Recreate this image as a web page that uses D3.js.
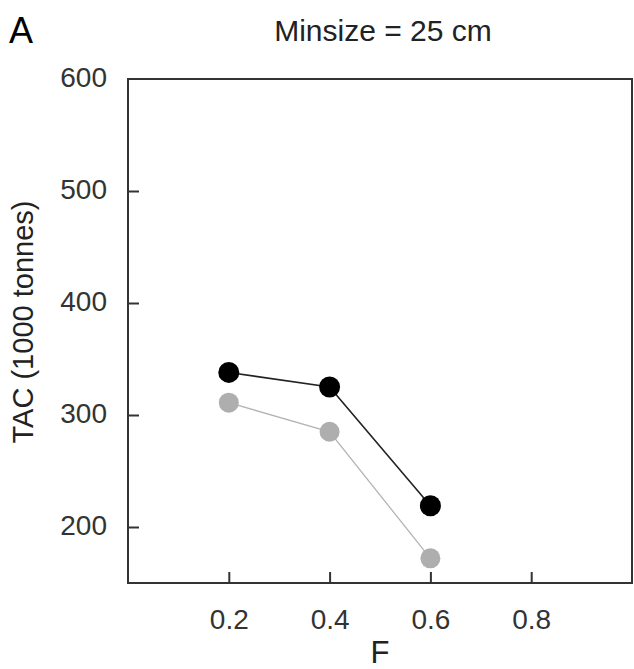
<!DOCTYPE html>
<html><head><meta charset="utf-8">
<script src="https://cdn.jsdelivr.net/npm/d3@7"></script>
<style>body{margin:0;background:#fff}svg{display:block}text{font-family:"Liberation Sans",Arial,sans-serif}</style>
</head><body>
<svg id="c" width="634" height="669"></svg>
<script>
const fValues = [0.2, 0.4, 0.6];
const blackSeries = [338, 325, 219];
const graySeries = [311, 285, 172];
const xTicks = [0.2, 0.4, 0.6, 0.8];
const yTicks = [200, 300, 400, 500, 600];
const title = "Minsize = 25 cm";
const panelLabel = "A";
const xLabel = "F";
const yLabel = "TAC (1000 tonnes)";

const svg = d3.select("#c");
const L = 128, R = 632, T = 79, B = 583;
const x = d3.scaleLinear().domain([0, 1]).range([L, R]);
const y = d3.scaleLinear().domain([150, 600]).range([B, T]);

// frame
svg.append("rect").attr("x", L).attr("y", T).attr("width", R - L).attr("height", B - T)
  .attr("fill", "none").attr("stroke", "#333").attr("stroke-width", 2);

const xAxis = svg.append("g").attr("transform", `translate(0,${B})`)
  .call(d3.axisBottom(x).tickValues(xTicks).tickSize(-11).tickPadding(0).tickFormat(d3.format(".1f")));
const yAxis = svg.append("g").attr("transform", `translate(${L},0)`)
  .call(d3.axisLeft(y).tickValues(yTicks).tickSize(-11).tickPadding(20).tickFormat(d3.format("d")));
[xAxis, yAxis].forEach(a => {
  a.select(".domain").remove();
  a.selectAll(".tick line").attr("stroke", "#333").attr("stroke-width", 2);
  a.selectAll(".tick text").attr("fill", "#333").style("font-size", "28px");
});
xAxis.selectAll(".tick text").attr("y", 46).attr("dy", null);
yAxis.selectAll(".tick text").attr("dy", "7px").attr("x", -21);
yAxis.selectAll(".tick").filter(d => d === 600).select("line").remove();

const line = d3.line().x((d, i) => x(fValues[i])).y(d => y(d));
svg.append("path").datum(graySeries).attr("d", line).attr("fill", "none").attr("stroke", "#b4b4b4").attr("stroke-width", 1.3);
svg.append("path").datum(blackSeries).attr("d", line).attr("fill", "none").attr("stroke", "#222").attr("stroke-width", 1.6);
svg.selectAll("circle.g").data(graySeries).enter().append("circle").attr("class", "g")
  .attr("cx", (d, i) => x(fValues[i])).attr("cy", d => y(d)).attr("r", 10).attr("fill", "#aeaeae");
svg.selectAll("circle.b").data(blackSeries).enter().append("circle").attr("class", "b")
  .attr("cx", (d, i) => x(fValues[i])).attr("cy", d => y(d)).attr("r", 10.5).attr("fill", "#000");

svg.append("text").attr("x", 383).attr("y", 41).attr("text-anchor", "middle").style("font-size", "30px").attr("fill", "#222").text(title);
svg.append("text").attr("x", 9).attr("y", 43).style("font-size", "36px").attr("fill", "#000").text(panelLabel);
svg.append("text").attr("x", 380).attr("y", 663).attr("text-anchor", "middle").style("font-size", "31px").attr("fill", "#222").text(xLabel);
svg.append("text").attr("transform", "translate(33,322) rotate(-90)").attr("text-anchor", "middle").style("font-size", "29px").attr("fill", "#222").text(yLabel);
</script>
</body></html>
